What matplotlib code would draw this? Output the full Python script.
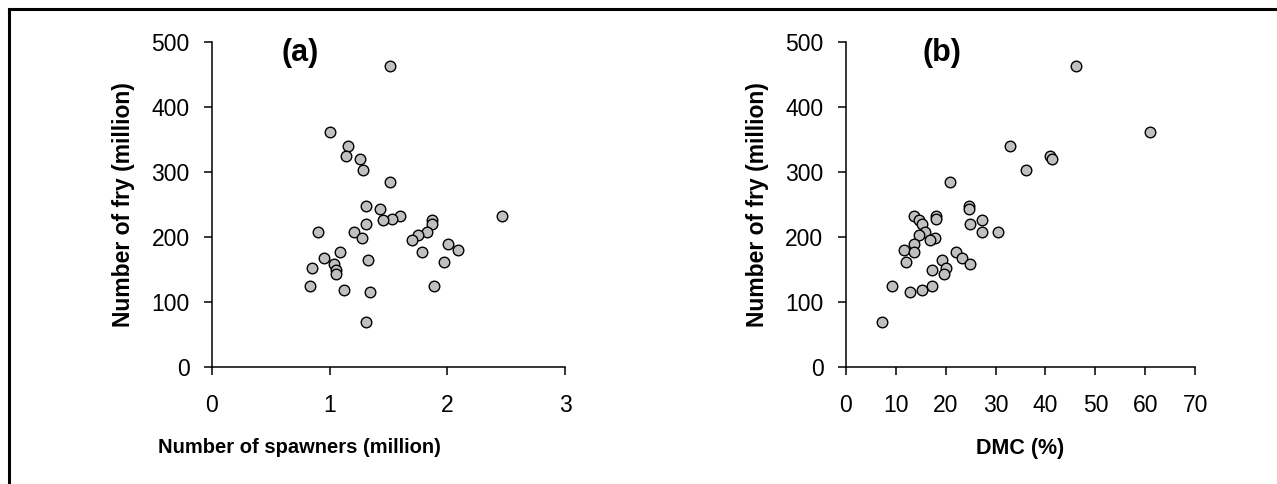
import matplotlib
matplotlib.use('Agg')
from matplotlib import pyplot as plt
from matplotlib.lines import Line2D

plt.rcParams['font.family'] = ['Liberation Sans', 'DejaVu Sans']

# fry produced each year (million), paired with spawners and DMC
fry = [463, 361.5, 340, 325, 321, 303, 284.6, 247.7, 244, 232.5,
       232.3, 228.7, 226, 226, 220, 220, 207.7, 207.7, 207.7, 204,
       198.5, 195.4, 189.7, 180.5, 177, 177, 167.7, 164.6, 161.5, 159.5,
       152.3, 149.7, 143, 124.6, 125, 119, 115.4, 69.2]
spawners = [1.511, 1.004, 1.160, 1.137, 1.259, 1.287, 1.511, 1.307, 1.429, 1.596,
            2.464, 1.528, 1.457, 1.871, 1.307, 1.871, 0.899, 1.205, 1.823, 1.752,
            1.276, 1.698, 2.002, 2.087, 1.089, 1.786, 0.953, 1.330, 1.970, 1.035,
            0.853, 1.052, 1.052, 0.831, 1.888, 1.120, 1.344, 1.307]
dmc = [46.1, 60.9, 32.9, 40.9, 41.4, 36.1, 20.95, 24.6, 24.6, 13.75,
       18.15, 18.15, 27.3, 14.7, 15.35, 24.9, 15.8, 27.3, 30.5, 14.6,
       17.8, 16.8, 13.75, 11.6, 13.75, 22.15, 23.35, 19.35, 12.1, 24.9,
       20.1, 17.35, 19.75, 9.3, 17.35, 15.35, 12.95, 7.3]

W, H = 1277, 484
fig = plt.figure(figsize=(W / 100, H / 100), dpi=100)

# outer frame (only top and left edges visible in the source)
fig.add_artist(Line2D([9 / W, 9 / W], [0, 1 - 8.5 / H], color='black', lw=2.2))
fig.add_artist(Line2D([9 / W, 1], [1 - 8.5 / H, 1 - 8.5 / H], color='black', lw=2.2))


def make_axes(x0, x1, xdata, xlim, xticks, xlabel, xlabel_size, tag, tag_x, xlabel_x):
    top, bottom = 42.3, 367.3
    ax = fig.add_axes([x0 / W, 1 - bottom / H, (x1 - x0) / W, (bottom - top) / H])
    ax.scatter(xdata, fry, s=58, c='#c0c0c0', edgecolors='black', linewidths=1.0,
               zorder=3, clip_on=False)
    ax.set_xlim(*xlim)
    ax.set_ylim(0, 500)
    ax.set_xticks(xticks)
    ax.set_yticks(range(0, 501, 100))
    for s in ['top', 'right']:
        ax.spines[s].set_visible(False)
    for s in ['left', 'bottom']:
        ax.spines[s].set_linewidth(1.1)
    ax.tick_params(axis='both', direction='out', length=6, width=1.1, labelsize=16.5)
    ax.tick_params(axis='x', pad=13)
    ax.tick_params(axis='y', pad=10)
    ax.set_ylabel('Number of fry (million)', fontsize=16.5, fontweight='bold')
    ax.yaxis.set_label_coords(-0.218, 0.5)
    ax.set_xlabel(xlabel, fontsize=xlabel_size, fontweight='bold', va='top')
    ax.xaxis.set_label_coords(xlabel_x, -0.2175)
    ax.text(tag_x, 483, tag, fontsize=22, fontweight='bold', ha='center', va='center')
    return ax


make_axes(212, 565, spawners, (0, 3), [0, 1, 2, 3],
          'Number of spawners (million)', 14.5, '(a)', 0.75, 0.249)
make_axes(845.7, 1195.3, dmc, (0, 70), range(0, 71, 10),
          'DMC (%)', 15.5, '(b)', 19.3, 0.5)

fig.savefig('out.png', dpi=100)
